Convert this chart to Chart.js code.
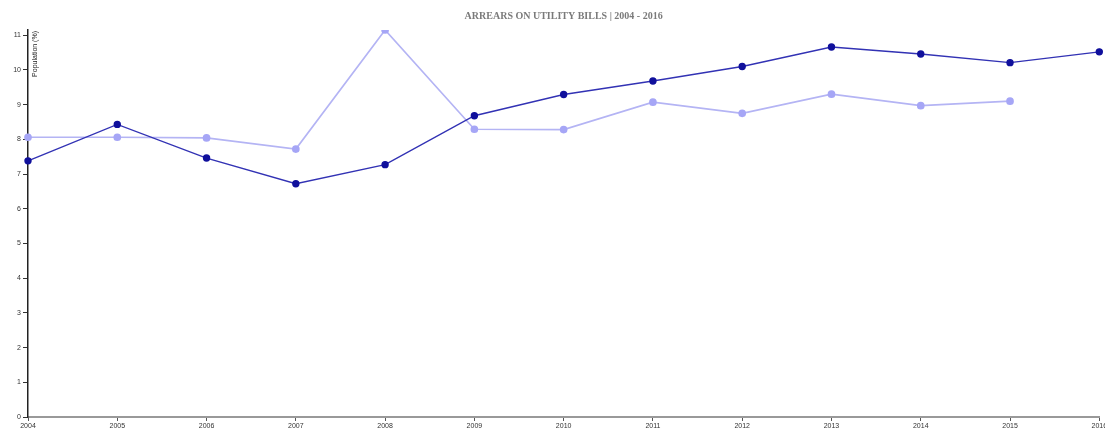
<!DOCTYPE html>
<html>
<head>
<meta charset="utf-8">
<script src="https://cdn.jsdelivr.net/npm/chart.js@4"></script>
<style>
    html, body { margin: 0; padding: 0; background: #fff; }
    #wrap { width: 1105px; height: 433px; }
</style>
</head>
<body>
<div id="wrap"><canvas id="chart-arrears"></canvas></div>
<script>
// years on the x axis
const anios = ['2004', '2005', '2006', '2007', '2008', '2009', '2010', '2011', '2012', '2013', '2014', '2015', '2016'];

// population in arrears (%)
const serieOscura = [7.38, 8.43, 7.46, 6.72, 7.27, 8.68, 9.29, 9.68, 10.1, 10.66, 10.46, 10.21, 10.52];
const serieClara = [8.06, 8.06, 8.04, 7.72, 11.15, 8.29, 8.28, 9.07, 8.75, 9.3, 8.97, 9.1, null];

const yTicks = [0, 1, 2, 3, 4, 5, 6, 7, 8, 9, 10, 11];
const yMax = 11.15;

const titulo = 'ARREARS ON UTILITY BILLS | 2004 - 2016';
const etiquetaY = 'Population (%)';

// rotated y label sits inside the plot, next to the axis
const pluginEtiquetaY = {
    id: 'etiquetaY',
    afterDraw(chart) {
        const { ctx, chartArea } = chart;
        ctx.save();
        ctx.translate(chartArea.left + 7, chartArea.top + 1);
        ctx.rotate(-Math.PI / 2);
        ctx.font = '7px Arial, "Liberation Sans", sans-serif';
        ctx.fillStyle = '#222';
        ctx.textAlign = 'right';
        ctx.textBaseline = 'middle';
        ctx.fillText(etiquetaY, 0, 0);
        ctx.restore();
    }
};

const ctx = document.getElementById('chart-arrears');
new Chart(ctx, {
    type: 'line',
    data: {
        labels: anios,
        datasets: [
            {
                label: 'A',
                data: serieOscura,
                borderColor: '#3232b4',
                backgroundColor: '#10109c',
                pointBackgroundColor: '#10109c',
                pointBorderColor: '#10109c',
                borderWidth: 1.4,
                pointRadius: 3,
                tension: 0
            },
            {
                label: 'B',
                data: serieClara,
                borderColor: '#b4b4f4',
                backgroundColor: '#a6a6f6',
                pointBackgroundColor: '#a6a6f6',
                pointBorderColor: '#a6a6f6',
                borderWidth: 1.7,
                pointRadius: 3,
                tension: 0
            }
        ]
    },
    options: {
        responsive: true,
        maintainAspectRatio: false,
        animation: false,
        layout: { padding: { left: 0, right: 4, top: 0, bottom: 0 } },
        plugins: {
            legend: { display: false },
            tooltip: { enabled: false },
            title: {
                display: true,
                text: titulo,
                fullSize: false,
                color: '#7a7a7a',
                font: { family: '"Liberation Serif", "Times New Roman", serif', size: 10, weight: 'bold', lineHeight: 1.2 },
                padding: { top: 10, bottom: 8 }
            }
        },
        scales: {
            x: {
                type: 'category',
                offset: false,
                grid: { drawOnChartArea: false, drawTicks: true, tickLength: 4, color: '#555' },
                border: { display: true, color: '#999', width: 2 },
                ticks: {
                    color: '#333',
                    font: { family: 'Arial, "Liberation Sans", sans-serif', size: 7 },
                    padding: 1,
                    maxRotation: 0,
                    autoSkip: false
                },
                afterFit(scale) {
                    scale.height = 16;
                    scale.paddingLeft = 0;
                    scale.paddingRight = 0;
                }
            },
            y: {
                min: 0,
                max: yMax,
                grid: { drawOnChartArea: false, drawTicks: true, tickLength: 5, color: '#333' },
                border: { display: true, color: '#222', width: 1.5 },
                ticks: {
                    color: '#333',
                    font: { family: 'Arial, "Liberation Sans", sans-serif', size: 7 },
                    padding: 2
                },
                afterBuildTicks(scale) {
                    scale.ticks = yTicks.map(v => ({ value: v }));
                },
                afterFit(scale) {
                    scale.width = 28;
                    scale.paddingTop = 0;
                    scale.paddingBottom = 0;
                }
            }
        }
    },
    plugins: [pluginEtiquetaY]
});
</script>
</body>
</html>
